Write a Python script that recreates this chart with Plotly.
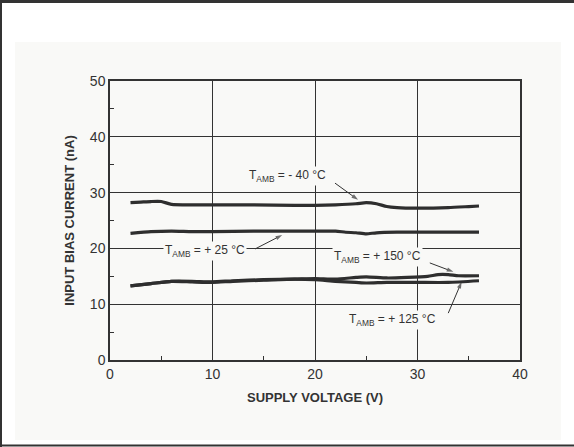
import plotly.graph_objects as go

# ---- data ----
v_m40 = [2, 3, 4, 5, 6, 8, 10, 14, 18, 20, 22, 24, 25, 26, 27, 28, 30, 33, 35, 36]
i_m40 = [28.2, 28.3, 28.4, 28.4, 27.9, 27.8, 27.8, 27.8, 27.7, 27.7, 27.8, 28.0, 28.2, 28.0, 27.5, 27.3, 27.2, 27.3, 27.5, 27.6]

v_p25 = [2, 4, 6, 8, 10, 14, 18, 20, 22, 23, 24, 25, 26, 28, 30, 33, 36]
i_p25 = [22.7, 23.0, 23.1, 23.0, 23.0, 23.1, 23.1, 23.1, 23.1, 22.9, 22.8, 22.6, 22.8, 22.9, 22.9, 22.9, 22.9]

v_p150 = [2, 4, 6, 8, 10, 12, 15, 18, 20, 22, 24, 25, 27, 29, 31, 32, 33, 34, 36]
i_p150 = [13.3, 13.7, 14.1, 14.1, 14.0, 14.2, 14.4, 14.5, 14.6, 14.5, 14.8, 14.9, 14.7, 14.8, 15.0, 15.3, 15.3, 15.1, 15.1]

v_p125 = [2, 4, 6, 8, 10, 12, 15, 18, 20, 22, 24, 25, 27, 30, 33, 36]
i_p125 = [13.3, 13.7, 14.1, 14.0, 13.9, 14.1, 14.3, 14.5, 14.4, 14.1, 13.9, 13.8, 13.9, 13.9, 13.9, 14.2]

x_ticks = [0, 10, 20, 30, 40]
y_ticks = [0, 10, 20, 30, 40, 50]

labels = ["T<sub>AMB</sub> = - 40 °C", "T<sub>AMB</sub> = + 25 °C",
          "T<sub>AMB</sub> = + 150 °C", "T<sub>AMB</sub> = + 125 °C"]
label_pos = [(17.3, 33.0), (9.3, 19.6), (26.1, 18.5), (27.6, 7.2)]
arrow_tail_v = [21.95, 14.15, 31.2, 33.0]
arrow_tail_i = [31.7, 19.9, 17.4, 8.4]
arrow_head_v = [24.2, 16.8, 33.5, 34.3]
arrow_head_i = [28.7, 22.4, 15.8, 14.0]

PANEL = "#f9f9f7"
INK = "#2e2e2e"
FONT = "Liberation Sans, Arial, sans-serif"

fig = go.Figure()
for vx, iy in [(v_m40, i_m40), (v_p25, i_p25), (v_p150, i_p150), (v_p125, i_p125)]:
    fig.add_trace(go.Scatter(x=vx, y=iy, mode="lines",
                             line=dict(color=INK, width=3.2, shape="spline", smoothing=0.6),
                             showlegend=False, hoverinfo="skip"))

for tv, ti, hv, hi in zip(arrow_tail_v, arrow_tail_i, arrow_head_v, arrow_head_i):
    fig.add_trace(go.Scatter(x=[tv, hv], y=[ti, hi], mode="lines+markers",
                             line=dict(color="#333333", width=1),
                             marker=dict(symbol="arrow", size=[0, 7], angleref="previous",
                                         color="#333333", line=dict(width=0)),
                             showlegend=False, hoverinfo="skip"))

W, H = 574, 447
L, R, T, B = 110, 54, 81, 87
pw, ph = W - L - R, H - T - B

def px_x(p):
    return (p - L) / pw

def px_y(p):
    return (H - B - p) / ph

shapes = [
    dict(type="rect", xref="paper", yref="paper", x0=px_x(15), x1=px_x(561), y0=px_y(440), y1=px_y(42),
         fillcolor=PANEL, line=dict(width=0), layer="below"),
    dict(type="line", xref="paper", yref="paper", x0=px_x(0), x1=px_x(574), y0=px_y(1.5), y1=px_y(1.5),
         line=dict(color="#333333", width=3)),
    dict(type="line", xref="paper", yref="paper", x0=px_x(1), x1=px_x(1), y0=px_y(0), y1=px_y(447),
         line=dict(color="#333333", width=2)),
    dict(type="line", xref="paper", yref="paper", x0=px_x(0), x1=px_x(574), y0=px_y(445.5), y1=px_y(445.5),
         line=dict(color="#333333", width=2)),
]

annotations = []
for txt, (ax_, ay_) in zip(labels, label_pos):
    annotations.append(dict(x=ax_, y=ay_, xref="x", yref="y", text=txt, showarrow=False,
                            font=dict(family=FONT, size=12, color="#333333"), bgcolor=PANEL,
                            borderpad=1))

fig.update_layout(
    width=W, height=H,
    margin=dict(l=L, r=R, t=T, b=B),
    paper_bgcolor="white",
    plot_bgcolor=PANEL,
    shapes=shapes,
    annotations=annotations,
    font=dict(family=FONT, color="#333333"),
    xaxis=dict(range=[0, 40], tickvals=x_ticks, ticktext=[str(t) for t in x_ticks],
               showgrid=True, gridcolor="#333333", gridwidth=1, zeroline=False,
               showline=True, linecolor="#333333", linewidth=1.5, mirror=True,
               ticks="", tickfont=dict(size=14, color="#333333"),
               minor=dict(tickvals=[5, 15, 25, 35], ticks="inside", ticklen=4, tickcolor="#333333", showgrid=False),
               title=dict(text="<b>SUPPLY VOLTAGE (V)</b>", font=dict(size=13, color="#333333"), standoff=12)),
    yaxis=dict(range=[0, 50], tickvals=y_ticks, ticktext=[str(t) for t in y_ticks],
               showgrid=True, gridcolor="#333333", gridwidth=1, zeroline=False,
               showline=True, linecolor="#333333", linewidth=1.5, mirror=True,
               ticks="", tickfont=dict(size=14, color="#333333"),
               minor=dict(tickvals=[5, 15, 25, 35, 45], ticks="inside", ticklen=4, tickcolor="#333333", showgrid=False),
               title=dict(text="<b>INPUT BIAS CURRENT (nA)</b>", font=dict(size=13, color="#333333"), standoff=12)),
)

fig.write_html("out.html", config={"displayModeBar": False},
               post_script="document.body.style.margin='0';document.body.style.overflow='hidden';")
